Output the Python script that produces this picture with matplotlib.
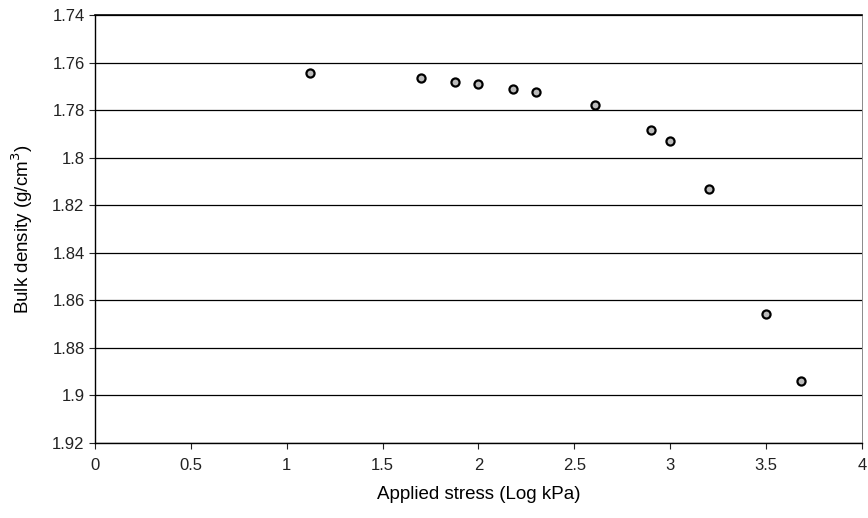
import matplotlib
matplotlib.use("Agg")
import matplotlib.pyplot as plt

# Values
stress_log = [1.12, 1.70, 1.88, 2.00, 2.18, 2.30, 2.61, 2.90, 3.00, 3.20, 3.50, 3.68]
bulk_density = [1.7643, 1.7665, 1.7680, 1.7690, 1.7710, 1.7725, 1.7779, 1.7883, 1.7929, 1.8131, 1.8656, 1.8940]

x_ticks = [0, 0.5, 1, 1.5, 2, 2.5, 3, 3.5, 4]
y_ticks = [1.74, 1.76, 1.78, 1.8, 1.82, 1.84, 1.86, 1.88, 1.9, 1.92]
y_tick_labels = ["1.74", "1.76", "1.78", "1.8", "1.82", "1.84", "1.86", "1.88", "1.9", "1.92"]

plt.rcParams["font.family"] = ["Liberation Sans", "DejaVu Sans"]

fig = plt.figure(figsize=(8.68, 5.18), dpi=100)
ax = fig.add_axes([0.1094, 0.1448, 0.8836, 0.8262])

ax.scatter(stress_log, bulk_density, s=34, facecolor="#bbbbbb", edgecolor="black",
           linewidths=1.6, zorder=3)

ax.set_xlim(0, 4)
ax.set_ylim(1.92, 1.74)
ax.set_xticks(x_ticks)
ax.set_xticklabels([f"{t:g}" for t in x_ticks])
ax.set_yticks(y_ticks)
ax.set_yticklabels(y_tick_labels)

ax.yaxis.grid(True, color="black", linewidth=0.9)
ax.set_axisbelow(True)
for side in ["left", "bottom"]:
    ax.spines[side].set_linewidth(1.0)
ax.spines["top"].set_linewidth(1.2)
ax.spines["right"].set_linewidth(0.6)
ax.spines["right"].set_color("#777777")

ax.tick_params(axis="both", direction="out", length=4, width=0.8, labelsize=12, colors="#222222")
ax.tick_params(axis="x", pad=7)

ax.set_xlabel("Applied stress (Log kPa)", fontsize=13.5, labelpad=9)
ax.set_ylabel("Bulk density (g/cm$^3$)", fontsize=13.5, labelpad=12)

fig.savefig("out.png", dpi=100)
